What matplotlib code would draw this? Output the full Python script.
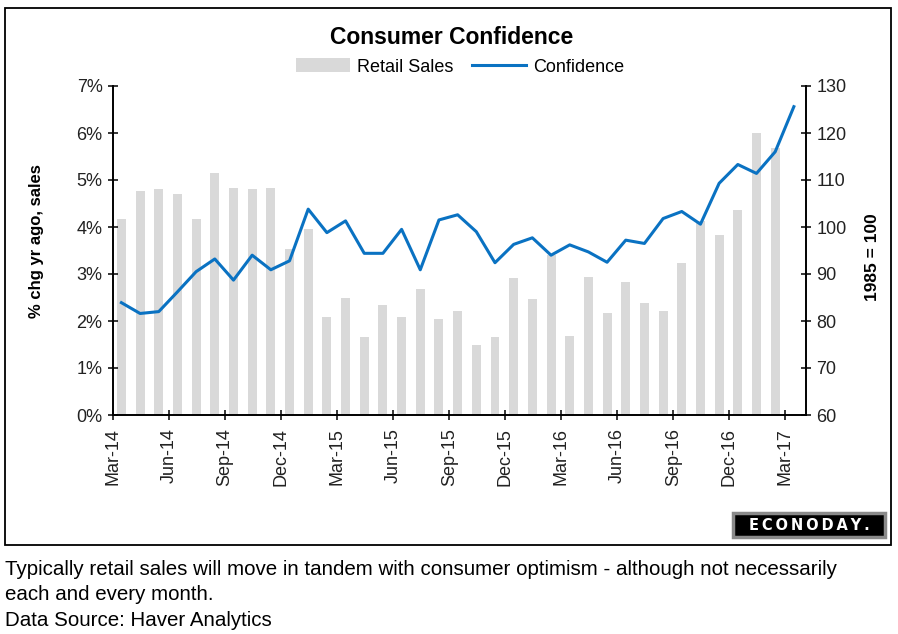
"""Consumer confidence vs. retail sales, Mar-14 to Mar-17."""

import matplotlib
matplotlib.use("Agg")
import matplotlib.pyplot as plt
import numpy as np
import pandas as pd
from matplotlib.patches import Rectangle

plt.rcParams["font.family"] = ["Liberation Sans", "DejaVu Sans"]

# retail sales, % chg yr ago (Mar-14 .. Feb-17)
retail_sales = [
    4.18, 4.77, 4.81, 4.70, 4.18, 5.14, 4.84, 4.81, 4.84, 3.54, 3.95, 2.09,
    2.50, 1.65, 2.35, 2.09, 2.69, 2.05, 2.21, 1.50, 1.65, 2.91, 2.46, 3.40,
    1.68, 2.94, 2.16, 2.84, 2.39, 2.21, 3.24, 4.12, 3.84, 4.36, 6.00, 5.68,
]
# consumer confidence, 1985 = 100 (Mar-14 .. Mar-17)
confidence = [
    83.9, 81.6, 82.0, 86.2, 90.5, 93.2, 88.7, 94.0, 90.9, 92.8, 103.8, 98.8,
    101.3, 94.4, 94.4, 99.5, 90.9, 101.5, 102.6, 99.0, 92.4, 96.3, 97.7, 94.0,
    96.2, 94.7, 92.5, 97.2, 96.5, 101.8, 103.3, 100.6, 109.3, 113.3, 111.4, 116.0,
    125.6,
]
months = pd.period_range("2014-03", "2017-03", freq="M")
tick_labels = [m.strftime("%b-%y") for m in months[::3]]

caption = ("Typically retail sales will move in tandem with consumer optimism - although not necessarily\n"
           "each and every month.\n"
           "Data Source: Haver Analytics")

fig = plt.figure(figsize=(8.98, 6.34), dpi=100)
W, H = 898, 634

# outer frame
fig.patches.append(Rectangle((5 / W, 1 - 545 / H), 886 / W, 537 / H, transform=fig.transFigure,
                             fill=False, edgecolor="black", linewidth=1.3))

ax = fig.add_axes([113 / W, 1 - 415 / H, 693 / W, 329 / H])
ax2 = ax.twinx()

x_bar = np.arange(len(retail_sales))
x_line = np.arange(len(confidence))
bars = ax.bar(x_bar, retail_sales, width=0.48, color="#d9d9d9", label="Retail Sales", zorder=1)
line, = ax2.plot(x_line, confidence, color="#0a72c2", linewidth=2.2, label="Confidence")

ax.set_xlim(-0.45, 36.65)
ax.set_ylim(0, 7)
ax2.set_ylim(60, 130)
ax.set_yticks(np.arange(0, 8))
ax.set_yticklabels([f"{v}%" for v in range(8)])
ax2.set_yticks(np.arange(60, 131, 10))
ax.set_xticks(np.arange(0, len(confidence), 3) - 0.45)
ax.set_xticklabels(tick_labels, rotation=90)

for a in (ax, ax2):
    a.spines["top"].set_visible(False)
    for s in a.spines.values():
        s.set_linewidth(1.2)
    a.tick_params(direction="inout", length=7, width=1.1, labelsize=13,
                  labelcolor="#222222", pad=4)
ax.tick_params(axis="x", pad=6)

ax.set_ylabel("% chg yr ago, sales", fontsize=12, fontweight="bold")
ax.yaxis.set_label_coords(-0.10, 0.53)
ax2.set_ylabel("1985 = 100", fontsize=12.5, fontweight="bold", rotation=90)
ax2.yaxis.set_label_coords(1.085, 0.48)

fig.text(452 / W, 1 - 37 / H, "Consumer Confidence", ha="center", va="center",
         fontsize=16.5, fontweight="bold")
fig.legend(handles=[bars, line], loc="center", bbox_to_anchor=(460 / W, 1 - 67 / H),
           ncol=2, frameon=False, fontsize=13, handlelength=3.0, handleheight=0.8,
           columnspacing=1.0, handletextpad=0.4)

# logo
fig.patches.append(Rectangle((733 / W, 1 - 537 / H), 152 / W, 24 / H, transform=fig.transFigure,
                             facecolor="black", edgecolor="#8a8a8a", linewidth=2.5))
fig.text(809 / W, 1 - 525 / H, "\u2009".join("ECONODAY."), ha="center", va="center",
         color="white", fontsize=10.5, fontweight="bold", family="DejaVu Sans")

fig.text(5 / W, 1 - 560 / H, caption, ha="left", va="top", fontsize=14.8, linespacing=1.42)

fig.savefig("out.png", dpi=100)
